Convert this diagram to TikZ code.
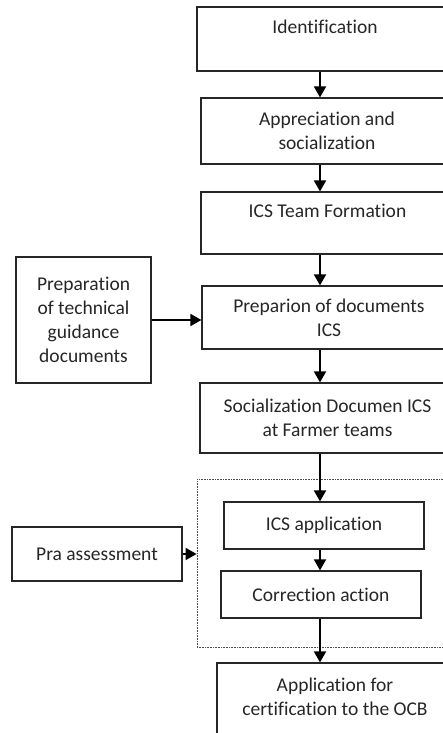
\documentclass[tikz,border=0pt]{standalone}
\usepackage{fontspec}
\setmainfont{Carlito}[Ligatures=NoCommon]
\usetikzlibrary{arrows.meta}

\begin{document}
\begin{tikzpicture}[x=1pt,y=-1pt,
  box/.style={draw=black!85,line width=1.2pt,rectangle,align=center,inner sep=0pt,
    text=black!85,font=\fontsize{19.5}{24}\selectfont},
  arr/.style={line width=1.8pt,-{Triangle[length=11pt,width=12pt]}}]
  \useasboundingbox (0,0) rectangle (443,733);
  \clip (0,0) rectangle (443,733);
  \coordinate (axis) at (320,0);
  \node[box,minimum width=256pt,minimum height=64pt] (ident) at (325,39) {Identification\\~};
  \node[box,minimum width=252pt,minimum height=66pt] (apprec) at (327,131) {Appreciation and\\socialization};
  \node[box,minimum width=253pt,minimum height=62pt] (team) at (327.5,223) {ICS Team Formation\\~};
  \node[box,minimum width=254pt,minimum height=63pt] (prep) at (329,317.5) {Preparion of documents\\ICS};
  \node[box,minimum width=255pt,minimum height=70pt] (soc) at (327.5,418) {Socialization Documen ICS\\at Farmer teams};
  \node[draw=black!70,line width=0.8pt,dash pattern=on 0.8pt off 0.8pt,rectangle,
    minimum width=263pt,minimum height=168pt] (frame) at (328.5,563) {};
  \node[box,minimum width=200pt,minimum height=47pt] (icsapp) at (324,525.5) {ICS application};
  \node[box,minimum width=200pt,minimum height=47pt] (corr) at (321,594.5) {Correction action};
  \node[box,minimum width=236pt,minimum height=92pt] (appl) at (335,709) {Application for\\certification to the OCB\\~};
  \node[box,minimum width=135pt,minimum height=126pt] (guide) at (83.5,320) {Preparation\\of technical\\guidance\\documents};
  \node[box,minimum width=170pt,minimum height=54pt] (pra) at (97,554) {Pra assessment};
  \draw[arr] (ident.south -| axis) -- (apprec.north -| axis);
  \draw[arr] (apprec.south -| axis) -- (team.north -| axis);
  \draw[arr] (team.south -| axis) -- (prep.north -| axis);
  \draw[arr] (prep.south -| axis) -- (soc.north -| axis);
  \draw[arr] (soc.south -| axis) -- (icsapp.north -| axis);
  \draw[arr] (icsapp.south -| axis) -- (corr.north -| axis);
  \draw[arr] (corr.south -| axis) -- (appl.north -| axis);
  \draw[arr] (guide.east) -- (guide.east -| prep.west);
  \draw[arr] (pra.east) -- (pra.east -| frame.west);
\end{tikzpicture}
\end{document}
